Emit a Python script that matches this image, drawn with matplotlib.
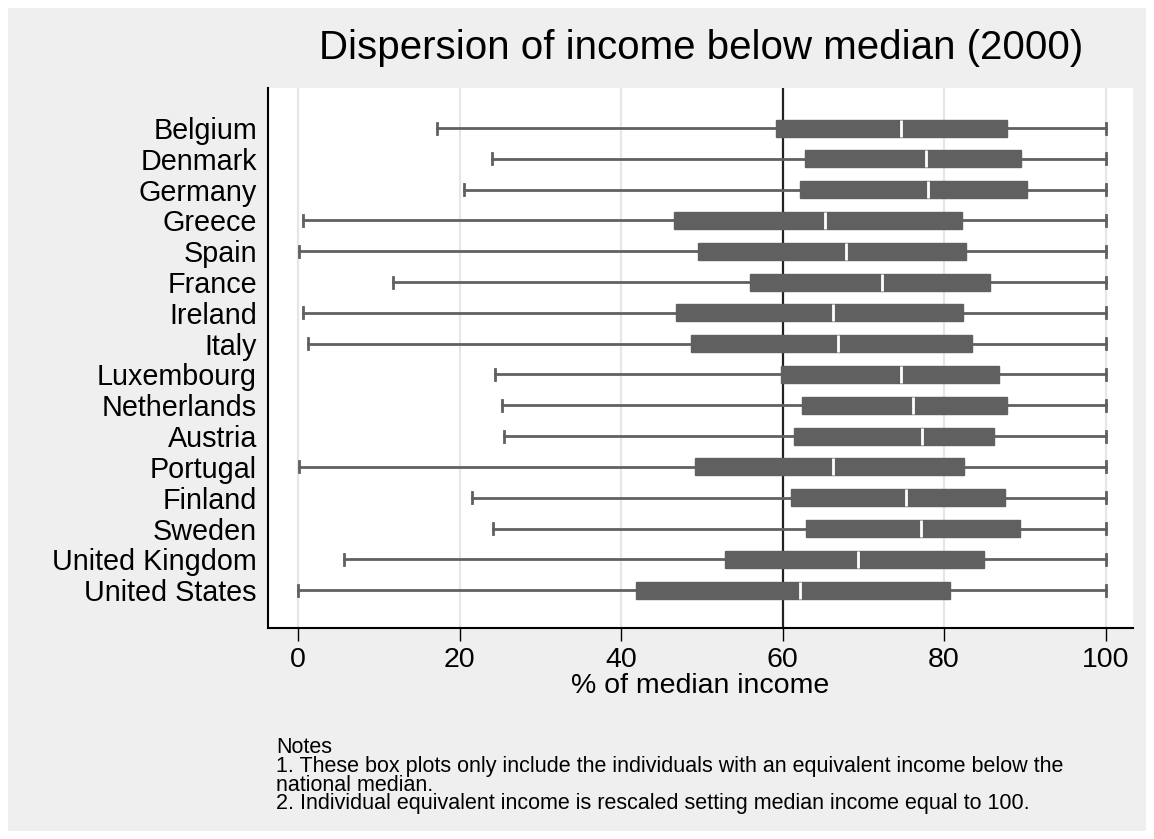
import matplotlib
matplotlib.use('Agg')
import matplotlib.pyplot as plt
from matplotlib.patches import Rectangle

plt.rcParams['font.family'] = ['Liberation Sans', 'DejaVu Sans']

# Valeurs (en % du revenu médian)
countries = ['Belgium', 'Denmark', 'Germany', 'Greece', 'Spain', 'France', 'Ireland', 'Italy',
             'Luxembourg', 'Netherlands', 'Austria', 'Portugal', 'Finland', 'Sweden',
             'United Kingdom', 'United States']
whisker_low = [17.2, 24.0, 20.5, 0.6, 0.1, 11.8, 0.6, 1.2, 24.4, 25.2, 25.5, 0.1, 21.5, 24.1, 5.7, 0.0]
q1 = [59.2, 62.8, 62.2, 46.6, 49.5, 55.9, 46.8, 48.6, 59.8, 62.4, 61.4, 49.1, 61.0, 62.9, 52.9, 41.8]
median = [74.7, 77.8, 78.0, 65.3, 67.9, 72.3, 66.2, 66.8, 74.7, 76.1, 77.3, 66.2, 75.3, 77.2, 69.3, 62.2]
q3 = [87.8, 89.5, 90.3, 82.2, 82.7, 85.7, 82.3, 83.5, 86.8, 87.8, 86.2, 82.5, 87.5, 89.4, 85.0, 80.7]
whisker_high = [100] * len(countries)

stats = []
for i in range(len(countries)):
    stats.append({'whislo': whisker_low[i], 'q1': q1[i], 'med': median[i],
                  'q3': q3[i], 'whishi': whisker_high[i], 'fliers': []})

W, H = 1154, 839
fig = plt.figure(figsize=(W / 100, H / 100), dpi=100, facecolor='white')
# fond gris avec une marge blanche
fig.patches.append(Rectangle((8 / W, 8 / H), (W - 16) / W, (H - 16) / H,
                             transform=fig.transFigure, facecolor='#efefef', edgecolor='none', zorder=-10))

ax = fig.add_axes([268 / W, 1 - 628 / H, (1133 - 268) / W, (628 - 88) / H])
ax.set_facecolor('white')

box_col = '#606060'
pos = list(range(len(countries)))
ax.bxp(stats, positions=pos, orientation='horizontal', widths=0.55, capwidths=0.36,
       patch_artist=True, showfliers=False,
       boxprops=dict(facecolor=box_col, edgecolor=box_col, linewidth=1),
       medianprops=dict(color='white', linewidth=2),
       whiskerprops=dict(color=box_col, linewidth=2),
       capprops=dict(color=box_col, linewidth=2))

ax.axvline(60, color='#222222', linewidth=1.6, zorder=1)
for x in [0, 20, 40, 80, 100]:
    ax.axvline(x, color='#e6e6e6', linewidth=1.6, zorder=0)

ax.set_xlim(-3.74, 103.4)
ax.set_ylim(16.23, -1.3)
ax.set_yticks(pos)
ax.set_yticklabels(countries, fontsize=20.7)
ax.tick_params(axis='y', length=0, pad=8)
ax.set_xticks([0, 20, 40, 60, 80, 100])
ax.tick_params(axis='x', labelsize=20.5, length=9, width=1, pad=5)
ax.set_xlabel('% of median income', fontsize=20.5, labelpad=0)

for s in ['top', 'right']:
    ax.spines[s].set_visible(False)
ax.spines['left'].set_linewidth(1.5)
ax.spines['bottom'].set_linewidth(1.5)

fig.text(701 / W, 1 - 48 / H, 'Dispersion of income below median (2000)', fontsize=29,
         ha='center', va='center')

notes = ('Notes\n'
         '1. These box plots only include the individuals with an equivalent income below the\n'
         'national median.\n'
         '2. Individual equivalent income is rescaled setting median income equal to 100.')
fig.text(276 / W, 1 - 737 / H, notes, fontsize=15.5, ha='left', va='top', linespacing=0.86)

fig.savefig('out.png', dpi=100, facecolor='white')
